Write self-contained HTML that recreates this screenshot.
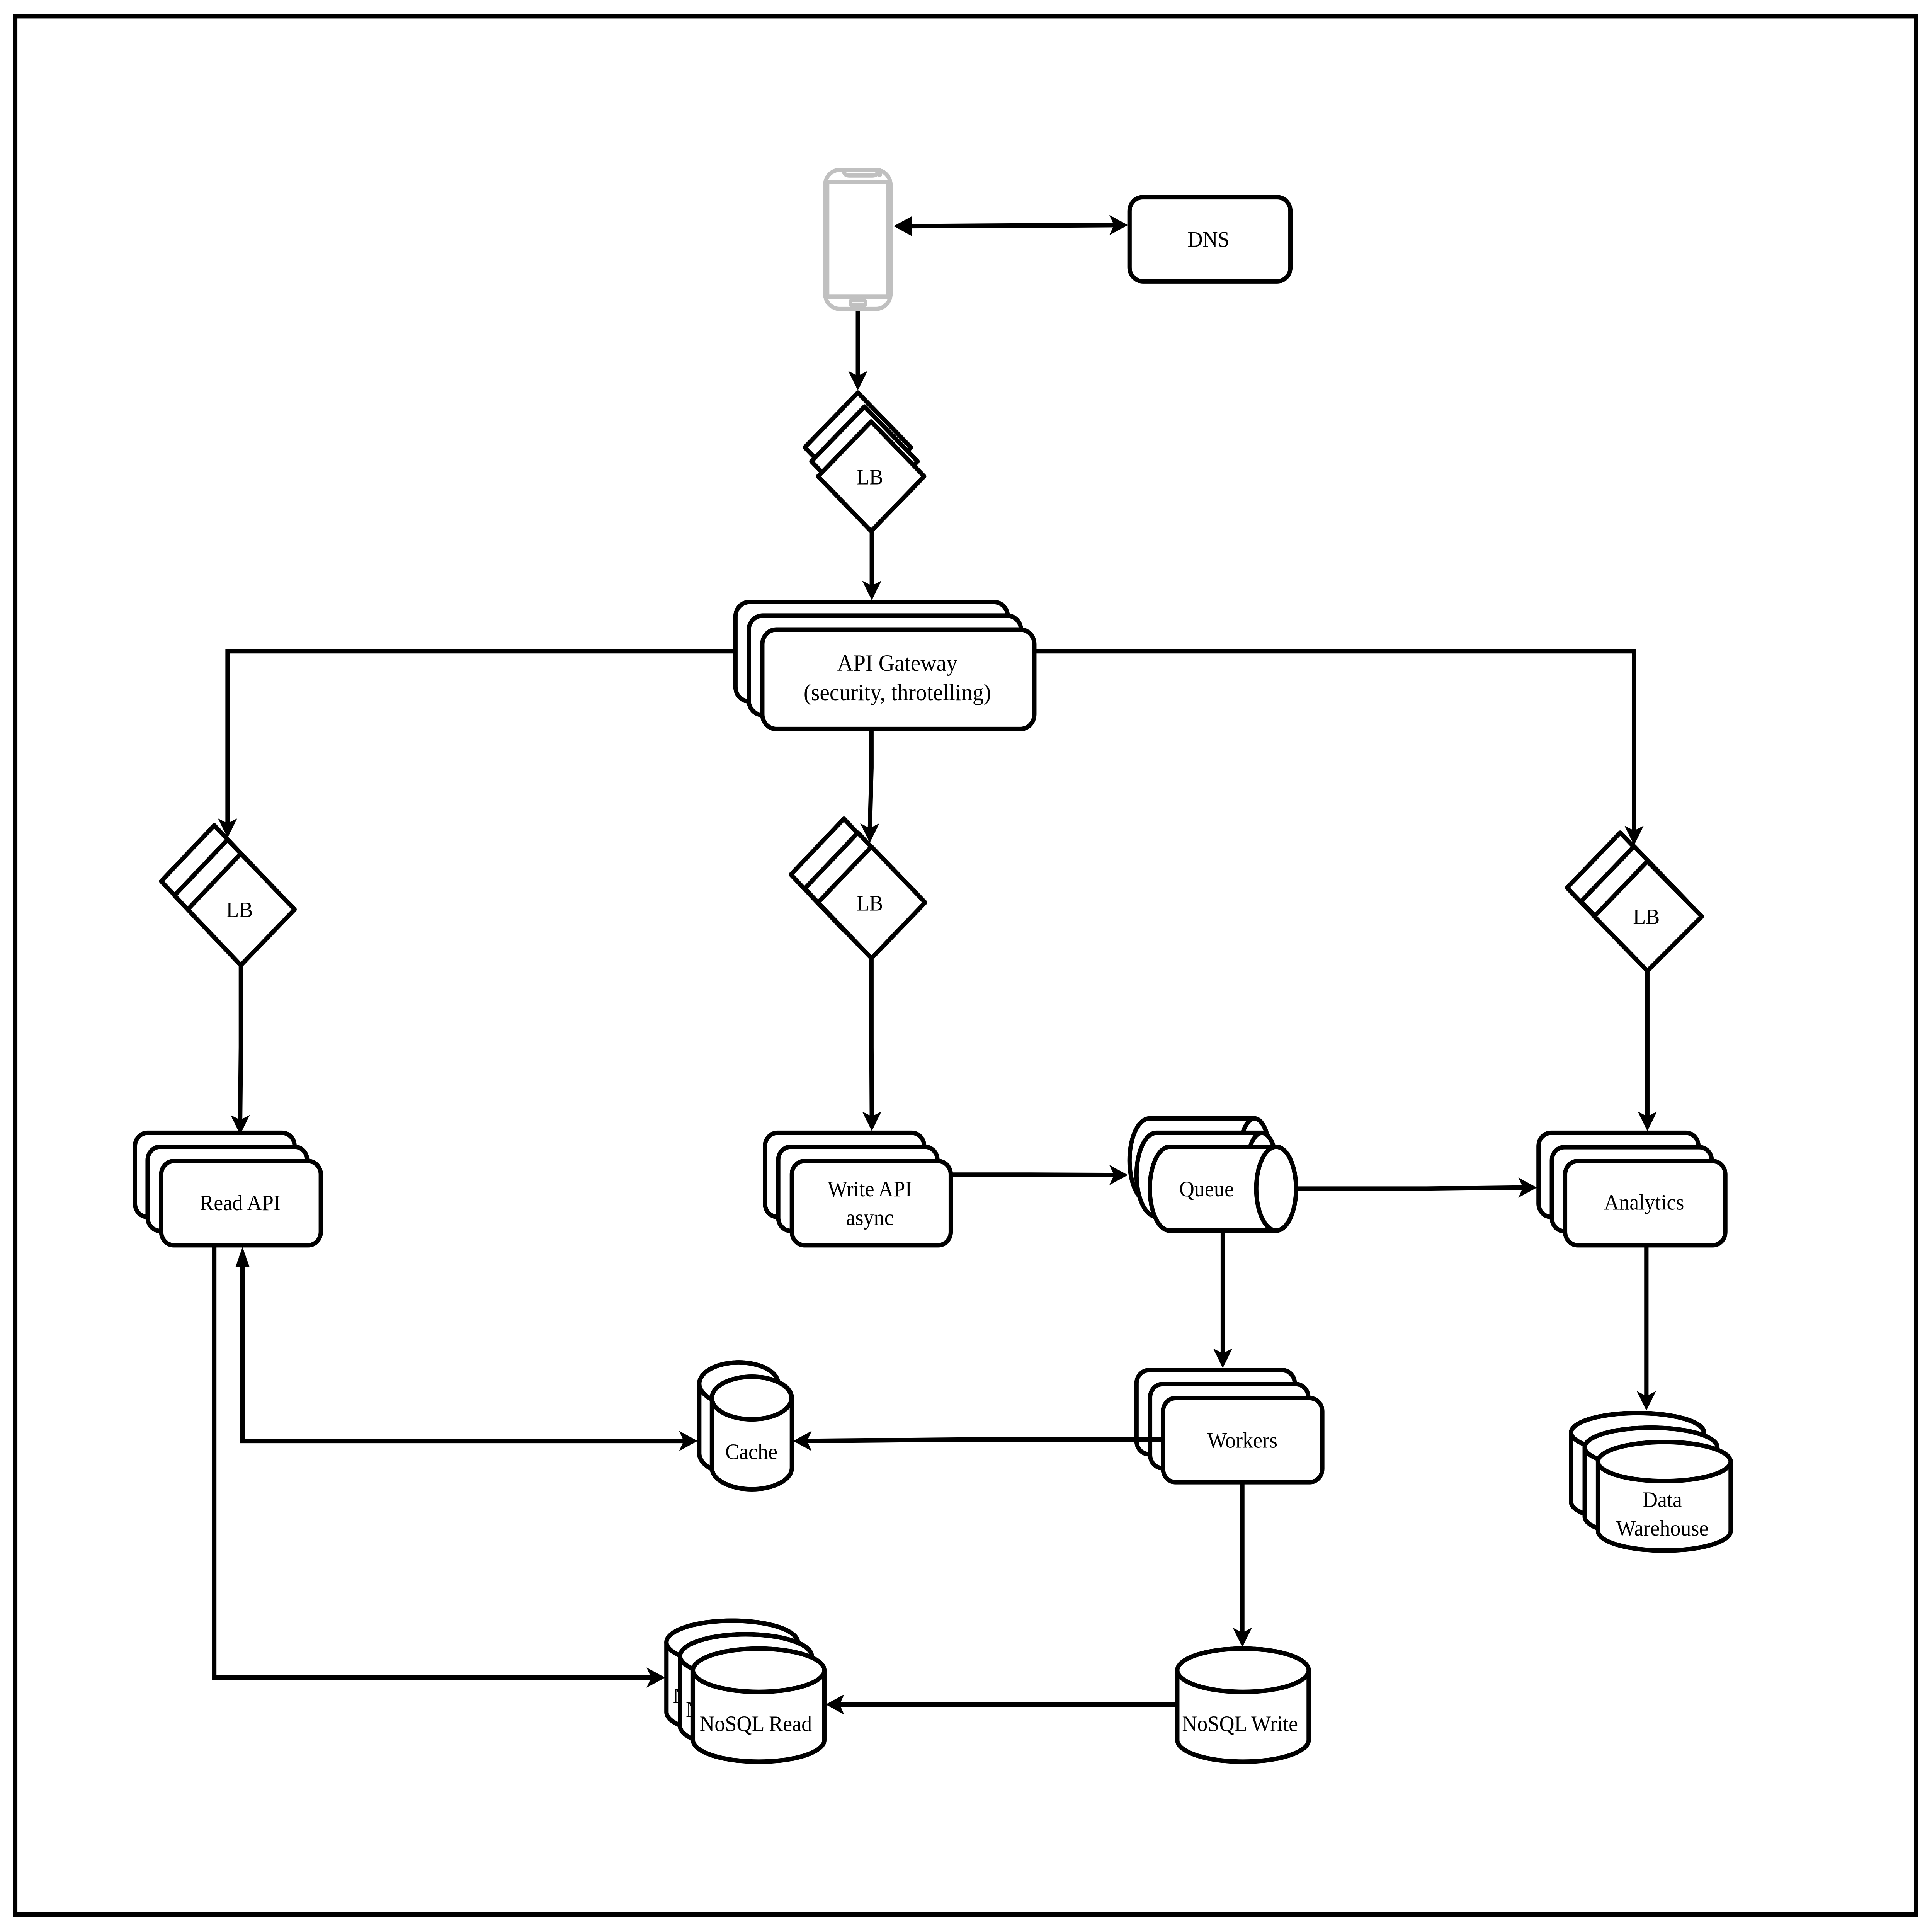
<!DOCTYPE html>
<html><head><meta charset="utf-8"><style>
html,body{margin:0;padding:0;background:#fff;width:100%;height:100%;overflow:hidden}
svg{display:block;width:100vw;height:100vh}
text{font-family:"Liberation Serif","Times New Roman",serif;font-size:63px;text-anchor:middle;fill:#000;stroke:none}
.s{fill:#fff;stroke:#000;stroke-width:13;stroke-linejoin:round}
.l{fill:none;stroke:#000;stroke-width:13;stroke-linejoin:miter}
.a{fill:#000;stroke:none}
.p{fill:none;stroke:#c0c0c0;stroke-width:12}
</style></head><body>
<svg xmlns="http://www.w3.org/2000/svg" viewBox="0 0 5824 5536" preserveAspectRatio="none">
<rect width="5824" height="5536" fill="#fff"/>
<rect x="46" y="46" width="5730" height="5440" fill="none" stroke="#000" stroke-width="13"/>

<!-- phone -->
<rect class="p" x="2487" y="487" width="198" height="398" rx="44"/>
<rect class="p" x="2494" y="521" width="184" height="329"/>
<path class="p" d="M2544 492 Q2546 503 2560 503 H2630 Q2644 503 2646 492" stroke-width="10"/>
<circle cx="2651" cy="500" r="8" fill="#c0c0c0"/>
<rect x="2558" y="856" width="56" height="24" rx="9" fill="#c0c0c0"/>
<rect x="2568" y="866" width="36" height="3" fill="#fff"/>

<!-- DNS -->
<rect class="s" x="3405" y="565" width="485" height="241" rx="40"/>
<text x="3643" y="707">DNS</text>

<!-- LB top -->
<polygon class="s" points="2586,1125 2746,1282 2586,1439 2426,1282"/>
<polygon class="s" points="2606,1165 2766,1322 2606,1479 2446,1322"/>
<polygon class="s" points="2626,1208 2786,1365 2626,1522 2466,1365"/>
<text x="2622" y="1388">LB</text>

<!-- API gateway -->
<rect class="s" x="2217" y="1725" width="821" height="285" rx="42"/>
<rect class="s" x="2257" y="1764" width="821" height="285" rx="42"/>
<rect class="s" x="2298" y="1804" width="820" height="285" rx="42"/>
<text x="2705" y="1922" style="font-size:67px">API Gateway</text>
<text x="2705" y="2006" style="font-size:67px">(security, throtelling)</text>

<!-- LB left -->
<polygon class="s" points="646,2365 806,2525 646,2685 486,2525"/>
<polygon class="s" points="686,2406 846,2566 686,2726 526,2566"/>
<polygon class="s" points="726,2446 888,2606 726,2766 566,2606"/>
<text x="722" y="2628">LB</text>

<!-- LB mid -->
<polygon class="s" points="2544,2346 2704,2506 2544,2666 2384,2506"/>
<polygon class="s" points="2586,2386 2746,2546 2586,2706 2426,2546"/>
<polygon class="s" points="2627,2426 2789,2586 2627,2746 2466,2586"/>
<text x="2622" y="2609">LB</text>

<!-- LB right -->
<polygon class="s" points="4884,2386 5044,2544 4884,2702 4724,2544"/>
<polygon class="s" points="4926,2425 5086,2583 4926,2741 4766,2583"/>
<polygon class="s" points="4966,2468 5130,2626 4966,2782 4806,2626"/>
<text x="4963" y="2648">LB</text>

<!-- Read API -->
<rect class="s" x="407" y="3246" width="481" height="241" rx="38"/>
<rect class="s" x="445" y="3286" width="481" height="241" rx="38"/>
<rect class="s" x="486" y="3327" width="481" height="241" rx="38"/>
<text x="724" y="3468">Read API</text>

<!-- Write API -->
<rect class="s" x="2306" y="3246" width="480" height="241" rx="38"/>
<rect class="s" x="2346" y="3286" width="480" height="241" rx="38"/>
<rect class="s" x="2387" y="3327" width="479" height="241" rx="38"/>
<text x="2622" y="3428">Write API</text>
<text x="2622" y="3510">async</text>

<!-- Queue -->
<path class="s" d="M3465 3205 H3782 A48 120 0 0 1 3782 3445 H3465 A60 120 0 0 1 3465 3205Z"/>
<ellipse class="s" cx="3782" cy="3325" rx="48" ry="120"/>
<path class="s" d="M3486 3246 H3804 A48 120 0 0 1 3804 3486 H3486 A60 120 0 0 1 3486 3246Z"/>
<ellipse class="s" cx="3804" cy="3366" rx="48" ry="120"/>
<path class="s" d="M3526 3286 H3847 A60 120 0 0 1 3847 3526 H3526 A60 120 0 0 1 3526 3286Z"/>
<ellipse class="s" cx="3847" cy="3406" rx="60" ry="120"/>
<text x="3637" y="3428">Queue</text>

<!-- Analytics -->
<rect class="s" x="4638" y="3246" width="482" height="241" rx="38"/>
<rect class="s" x="4678" y="3287" width="482" height="241" rx="38"/>
<rect class="s" x="4718" y="3327" width="483" height="241" rx="38"/>
<text x="4956" y="3466">Analytics</text>

<!-- Workers -->
<rect class="s" x="3426" y="3926" width="477" height="241" rx="38"/>
<rect class="s" x="3467" y="3966" width="477" height="241" rx="38"/>
<rect class="s" x="3506" y="4006" width="480" height="241" rx="38"/>
<text x="3745" y="4148">Workers</text>

<!-- Cache -->
<path class="s" d="M2108 3965 A119 61 0 0 1 2346 3965 V4165 A119 61 0 0 1 2108 4165Z"/>
<ellipse class="s" cx="2227" cy="3965" rx="119" ry="61"/>
<path class="s" d="M2146 4006 A120 61 0 0 1 2387 4006 V4206 A120 61 0 0 1 2146 4206Z"/>
<ellipse class="s" cx="2266" cy="4006" rx="120" ry="61"/>
<text x="2265" y="4181">Cache</text>

<!-- Data Warehouse -->
<path class="s" d="M4736 4105 A200 56 0 0 1 5137 4105 V4304 A200 56 0 0 1 4736 4304Z"/>
<ellipse class="s" cx="4936" cy="4105" rx="200" ry="56"/>
<path class="s" d="M4777 4147 A200 56 0 0 1 5177 4147 V4346 A200 56 0 0 1 4777 4346Z"/>
<ellipse class="s" cx="4977" cy="4147" rx="200" ry="56"/>
<path class="s" d="M4817 4188 A200 56 0 0 1 5217 4188 V4387 A200 56 0 0 1 4817 4387Z"/>
<ellipse class="s" cx="5017" cy="4188" rx="200" ry="56"/>
<text x="5011" y="4318">Data</text>
<text x="5011" y="4400">Warehouse</text>

<!-- NoSQL Read -->
<path class="s" d="M2009 4706 A198 62 0 0 1 2405 4706 V4906 A198 62 0 0 1 2009 4906Z"/>
<ellipse class="s" cx="2207" cy="4706" rx="198" ry="62"/>
<text x="2198" y="4880">NoSQL Read</text>
<path class="s" d="M2050 4745 A198 62 0 0 1 2447 4745 V4946 A198 62 0 0 1 2050 4946Z"/>
<ellipse class="s" cx="2248" cy="4745" rx="198" ry="62"/>
<text x="2237" y="4920">NoSQL Read</text>
<path class="s" d="M2089 4786 A198 62 0 0 1 2485 4786 V4986 A198 62 0 0 1 2089 4986Z"/>
<ellipse class="s" cx="2287" cy="4786" rx="198" ry="62"/>
<text x="2278" y="4960">NoSQL Read</text>

<!-- NoSQL Write -->
<path class="s" d="M3549 4786 A198 62 0 0 1 3945 4786 V4986 A198 62 0 0 1 3549 4986Z"/>
<ellipse class="s" cx="3747" cy="4786" rx="198" ry="62"/>
<text x="3738" y="4960">NoSQL Write</text>

<!-- connectors -->
<path class="l" d="M2740 648 L3360 645"/>
<path class="l" d="M2586 891 V1085"/>
<path class="l" d="M2628 1522 V1690"/>
<path class="l" d="M2217 1866 H686 V2370"/>
<path class="l" d="M3118 1866 H4926 V2390"/>
<path class="l" d="M2627 2089 L2627 2200 L2622 2385"/>
<path class="l" d="M726 2766 V3000 L724 3215"/>
<path class="l" d="M2627 2746 V3000 L2628 3205"/>
<path class="l" d="M4966 2782 V3205"/>
<path class="l" d="M2866 3366 H3100 L3370 3367"/>
<path class="l" d="M3907 3406 H4300 L4600 3403"/>
<path class="l" d="M3686 3526 V3885"/>
<path class="l" d="M4963 3568 V4010"/>
<path class="l" d="M3745 4247 V4690"/>
<path class="l" d="M3506 4125 H2924 L2420 4129"/>
<path class="l" d="M731 3620 V4129 H2070"/>
<path class="l" d="M646 3568 V4807 H1975"/>
<path class="l" d="M3549 4884 H2520"/>

<!-- arrowheads -->
<polygon class="a" points="2750,619 2750,677 2694,648"/>
<polygon class="a" points="3344,616 3358,645 3344,674 3400,645"/>
<polygon class="a" points="2557,1063 2586,1077 2615,1063 2586,1119"/>
<polygon class="a" points="2599,1664 2628,1678 2657,1664 2628,1720"/>
<polygon class="a" points="657,2345 686,2359 715,2345 686,2401"/>
<polygon class="a" points="2593,2359 2622,2373 2651,2359 2622,2415"/>
<polygon class="a" points="4897,2366 4926,2380 4955,2366 4926,2422"/>
<polygon class="a" points="695,3195 724,3209 753,3195 724,3251"/>
<polygon class="a" points="2599,3185 2628,3199 2657,3185 2628,3241"/>
<polygon class="a" points="4937,3185 4966,3199 4995,3185 4966,3241"/>
<polygon class="a" points="3344,3338 3358,3367 3344,3396 3400,3367"/>
<polygon class="a" points="4577,3374 4591,3403 4577,3432 4633,3403"/>
<polygon class="a" points="3657,3864 3686,3878 3715,3864 3686,3920"/>
<polygon class="a" points="4934,3986 4963,4000 4992,3986 4963,4042"/>
<polygon class="a" points="3716,4664 3745,4678 3774,4664 3745,4720"/>
<polygon class="a" points="2447,4100 2433,4129 2447,4158 2391,4129"/>
<polygon class="a" points="2047,4100 2061,4129 2047,4158 2103,4129"/>
<polygon class="a" points="1949,4778 1963,4807 1949,4836 2005,4807"/>
<polygon class="a" points="2545,4855 2531,4884 2545,4913 2489,4884"/>
<polygon class="a" points="710,3630 752,3630 731,3573"/>
</svg>
</body></html>
